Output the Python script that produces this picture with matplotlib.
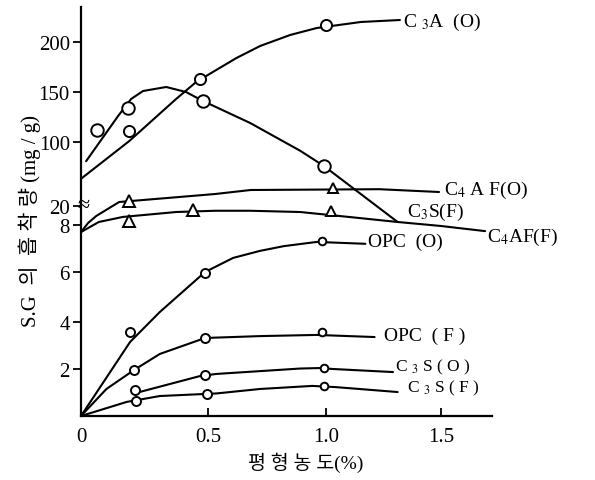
import numpy as np
import matplotlib.pyplot as plt
import matplotlib.transforms as mtransforms

plt.rcParams['font.family'] = ['Liberation Serif', 'Noto Sans CJK KR']
plt.rcParams['mathtext.fontset'] = 'stix'

# --- data ---------------------------------------------------------------
# C3A (O): fitted curve + measured points
c3a_o_x = [0, 0.19, 0.374, 0.453, 0.52, 0.62, 0.72, 0.847, 0.96, 1.15, 1.32]
c3a_o_y = [54, 101, 143, 160, 170, 184, 196, 207, 214, 220, 222]
c3a_o_px = [0.19, 0.47, 1.0]
c3a_o_py = [111, 163, 217]

# second C3A curve (humped, unlabelled)
c3a_h_x = [0.02, 0.146, 0.197, 0.244, 0.335, 0.413, 0.48, 0.678, 0.89, 0.99, 1.15, 1.31]
c3a_h_y = [76, 126, 143, 151, 155, 150, 141, 119, 89, 70, 35, 9.9]
c3a_h_px = [0.063, 0.185, 0.48, 0.99]
c3a_h_py = [112, 134, 141, 70]

# C4AF (O)
c4af_o_x = [0, 0.028, 0.06, 0.15, 0.53, 0.68, 1.23, 1.49]
c4af_o_y = [7.7, 9.3, 13.7, 25, 35, 40, 41, 37.5]
c4af_o_px = [0.19, 1.03]
c4af_o_py = [26.3, 42.5]

# C4AF (F) / C3S (F) triangles
c4af_f_x = [0, 0.07, 0.165, 0.374, 0.53, 0.678, 0.89, 1.104, 1.31, 1.496, 1.69]
c4af_f_y = [7.7, 9.9, 13.1, 16.2, 17.0, 17.0, 16.2, 13.0, 9.9, 7.96, 7.74]
c4af_f_px = [0.19, 0.44, 1.02]
c4af_f_py = [10.5, 17.5, 16.7]

# OPC (O)
opc_o_x = [0, 0.193, 0.31, 0.488, 0.606, 0.72, 0.82, 0.96, 1.17]
opc_o_y = [0, 3.15, 4.4, 6.0, 6.6, 6.9, 7.1, 7.28, 7.2]
opc_o_px = [0.193, 0.488, 0.98]
opc_o_py = [3.57, 5.96, 7.3]

# OPC (F)
opc_f_x = [0, 0.1, 0.209, 0.31, 0.488, 0.72, 0.96, 1.21]
opc_f_y = [0, 1.15, 1.96, 2.64, 3.32, 3.4, 3.45, 3.36]
opc_f_px = [0.209, 0.488, 0.98]
opc_f_py = [1.96, 3.32, 3.57]

# C3S (O)
c3s_o_x = [0.23, 0.468, 0.535, 0.72, 0.89, 0.97, 1.03, 1.29]
c3s_o_y = [1.02, 1.70, 1.79, 1.91, 2.02, 2.04, 2.0, 1.87]
c3s_o_px = [0.213, 0.488, 0.99]
c3s_o_py = [1.1, 1.74, 2.04]

# C3S (F)
c3s_f_x = [0, 0.18, 0.31, 0.535, 0.72, 0.94, 1.04, 1.31]
c3s_f_y = [0, 0.6, 0.85, 0.96, 1.15, 1.28, 1.23, 1.02]
c3s_f_px = [0.217, 0.496, 0.99]
c3s_f_py = [0.64, 0.94, 1.28]

x_ticks = [0, 0.5, 1.0, 1.5]
x_tick_labels = ['0', '0.5', '1.0', '1.5']
y_ticks = [2, 4, 6, 8, 20, 100, 150, 200]
y_tick_labels = ['2', '4', '6', '8', '20', '100', '150', '200']

# --- broken (piecewise) axis scales, as drawn in the original -------------
xk_val = [-1, 0, 0.5, 1.0, 1.5, 3.0]
xk_pos = [-254, 0, 127, 245, 360, 705]
yk_val = [-10, 0, 2, 4, 6, 8, 20, 100, 150, 200, 1000]
yk_pos = [-235, 0, 47, 94, 144, 191, 210, 274, 324, 374, 1174]


def fx(v):
    return np.interp(v, xk_val, xk_pos)


def fx_inv(p):
    return np.interp(p, xk_pos, xk_val)


def fy(v):
    return np.interp(v, yk_val, yk_pos)


def fy_inv(p):
    return np.interp(p, yk_pos, yk_val)


fig = plt.figure(figsize=(5.95, 4.81), dpi=100)
ax = fig.add_axes([81 / 595, 64 / 481, 411 / 595, 409 / 481])
ax.set_xscale('function', functions=(fx, fx_inv))
ax.set_yscale('function', functions=(fy, fy_inv))
ax.set_xlim(0, 1.72)
ax.set_ylim(0, 235)

lw = 1.5
curves = [
    (c3a_o_x, c3a_o_y, c3a_o_px, c3a_o_py, 'o', [8, 8, 8]),
    (c3a_h_x, c3a_h_y, c3a_h_px, c3a_h_py, 'o', [9, 9, 9, 9]),
    (c4af_o_x, c4af_o_y, c4af_o_px, c4af_o_py, '^', [8, 7]),
    (c4af_f_x, c4af_f_y, c4af_f_px, c4af_f_py, '^', [8, 8, 7]),
    (opc_o_x, opc_o_y, opc_o_px, opc_o_py, 'o', [6.5, 6.5, 5.5]),
    (opc_f_x, opc_f_y, opc_f_px, opc_f_py, 'o', [6.5, 6.5, 5.5]),
    (c3s_o_x, c3s_o_y, c3s_o_px, c3s_o_py, 'o', [6.5, 6.5, 5.5]),
    (c3s_f_x, c3s_f_y, c3s_f_px, c3s_f_py, 'o', [6.5, 6.5, 5.5]),
]
for cx, cy, px, py, mk, ms in curves:
    ax.plot(cx, cy, color='black', lw=lw, solid_capstyle='round',
            solid_joinstyle='round', clip_on=False)
    for xx, yy, s in zip(px, py, ms):
        ax.plot([xx], [yy], marker=mk, ms=s, mfc='white', mec='black',
                mew=1.4, ls='none', zorder=3, clip_on=False)

labels = [
    (1.335, 221, 'C $_3$A  (O)', 14),
    (1.51, 41, 'C$_4$ A F(O)', 14),
    (1.35, 16.8, 'C$_3$S(F)', 14),
    (1.70, 7.5, 'C$_4$AF(F)', 14),
    (1.18, 7.3, 'OPC  (O)', 14),
    (1.25, 3.45, 'OPC  ( F )', 14),
    (1.30, 2.1, 'C $_3$ S ( O )', 12.5),
    (1.35, 1.22, 'C $_3$ S ( F )', 12.5),
]
for lx, ly, txt, fs in labels:
    ax.text(lx, ly, txt, fontsize=fs, ha='left', va='center')

ax.set_xticks(x_ticks, x_tick_labels)
ax.set_yticks(y_ticks, y_tick_labels)
ax.minorticks_off()
ax.tick_params(axis='x', direction='in', length=6, width=1.3, labelsize=15, pad=8)
ax.tick_params(axis='y', direction='out', length=6, width=1.3, labelsize=15, pad=2)
for side in ['top', 'right']:
    ax.spines[side].set_visible(False)
for side in ['left', 'bottom']:
    ax.spines[side].set_linewidth(1.6)

# break mark on the y axis
trans = mtransforms.blended_transform_factory(ax.transAxes, ax.transData)
ax.text(0.005, 20.8, '≈', transform=trans, fontsize=16, ha='center', va='center')

fig.text(30 / 595, 1 - 221 / 481, 'S.G  의  흡 착 량 (mg / g)', rotation=90,
         fontsize=15, ha='center', va='center')
fig.text(306 / 595, 1 - 463 / 481, '평 형 농 도(%)', fontsize=14,
         ha='center', va='center')

fig.savefig('out.png', dpi=100, facecolor='white')
